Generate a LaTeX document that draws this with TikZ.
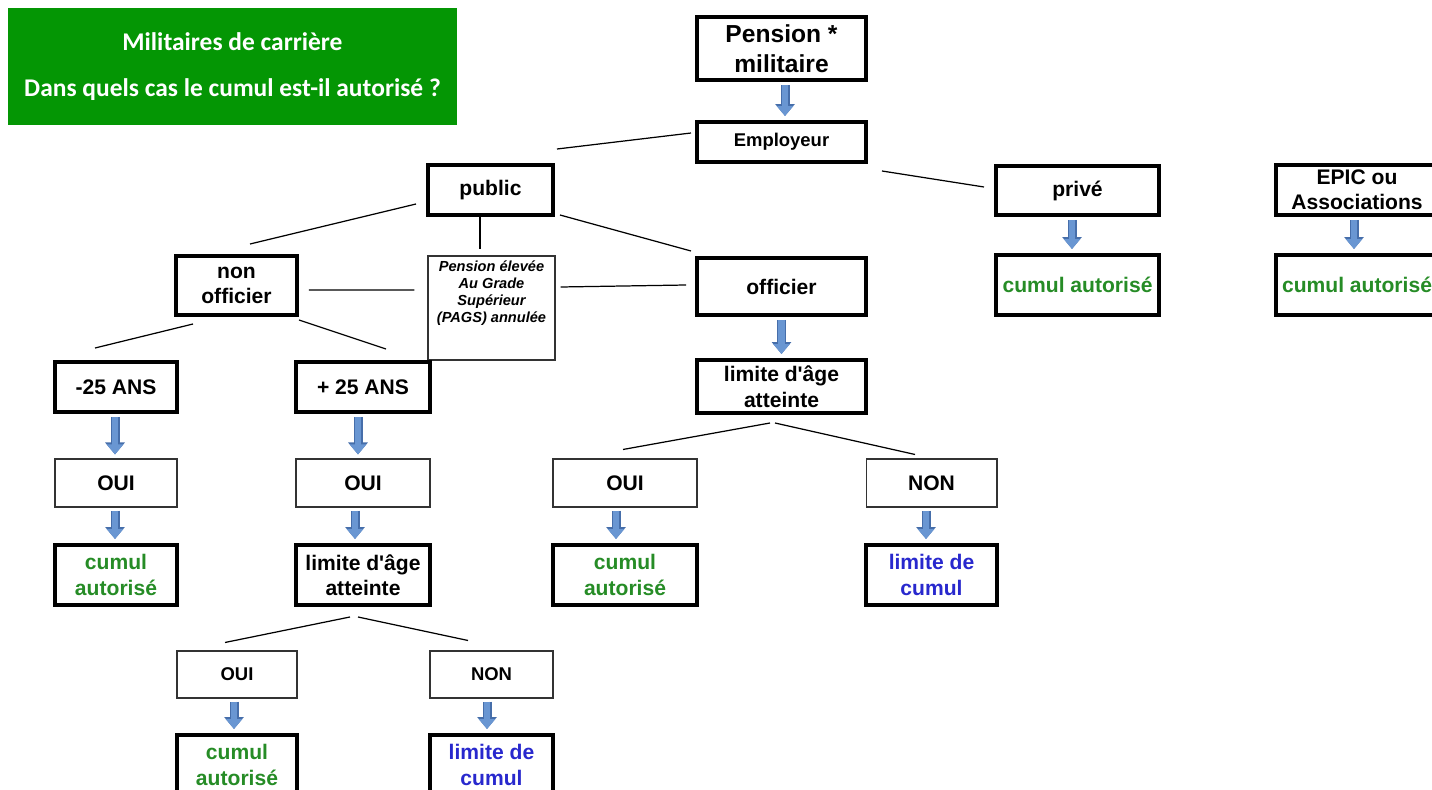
\documentclass[tikz,border=0pt]{standalone}
\usepackage{fontspec}
\setmainfont{Liberation Sans}
\newfontfamily\titlefont{Carlito}
\usetikzlibrary{arrows.meta}
\definecolor{titlegreen}{RGB}{4,150,4}
\definecolor{okgreen}{RGB}{38,140,38}
\definecolor{limblue}{RGB}{40,40,205}
\definecolor{arrowfill}{RGB}{105,150,210}
\definecolor{arrowedge}{RGB}{70,110,170}

\begin{document}
\begin{tikzpicture}[x=0.02cm,y=-0.02cm,
  thickbox/.style={draw=black,line width=0.08cm,inner sep=0pt,align=center,font=\bfseries\fontsize{12}{14.5}\selectfont},
  thinbox/.style={draw=black!80,line width=0.6pt,inner sep=0pt,align=center,font=\bfseries\fontsize{12}{14.5}\selectfont},
  link/.style={line width=0.7pt},
  blockarrow/.style={draw=arrowfill,line width=0.13cm,-{Triangle[width=0.32cm,length=0.2cm]},shorten <=0.06cm,shorten >=0.08cm,
    preaction={draw=arrowedge,line width=0.18cm,-{Triangle[width=0.38cm,length=0.24cm]}}}]

\useasboundingbox (0,0) rectangle (1432,790);

\node[fill=titlegreen,minimum width=8.98cm,minimum height=2.34cm,text=white,align=center,
  font=\titlefont\bfseries\fontsize{14.5}{17}\selectfont] (title) at (232.5,66.5)
  {Militaires de carrière\\[9pt]Dans quels cas le cumul est-il autorisé ?};

\node[thickbox,font=\bfseries\fontsize{14}{17}\selectfont,minimum width=3.38cm,minimum height=1.26cm] (pension) at (781.5,48.5) {Pension *\\militaire};
\node[thickbox,font=\bfseries\fontsize{10.5}{12}\selectfont,minimum width=3.38cm,minimum height=0.8cm] (employeur) at (781.5,142) {Employeur};
\node[thickbox,minimum width=2.5cm,minimum height=1cm] (public) at (490.5,190) {public};
\node[thickbox,minimum width=3.26cm,minimum height=0.98cm] (prive) at (1077.5,190.5) {privé};
\node[thickbox,minimum width=3.26cm,minimum height=1cm] (epic) at (1357,190) {EPIC ou\\Associations};
\node[thickbox,text=okgreen,minimum width=3.26cm,minimum height=1.2cm] (cumulp) at (1077.5,285) {cumul autorisé};
\node[thickbox,text=okgreen,minimum width=3.26cm,minimum height=1.2cm] (cumule) at (1357,285) {cumul autorisé};

\node[thickbox,minimum width=2.42cm,minimum height=1.18cm] (nonoff) at (236.5,285.5) {non\\officier};
\node[thinbox,minimum width=2.54cm,minimum height=2.08cm] (pags) at (491.5,308) {};
\node[below,inner sep=0.1cm,align=center,font=\bfseries\itshape\fontsize{8.3}{9.7}\selectfont] (pagstxt) at (pags.north)
  {Pension élevée\\Au Grade\\Supérieur\\(PAGS) annulée};
\node[thickbox,minimum width=3.38cm,minimum height=1.14cm] (officier) at (781.5,286.5) {officier};

\node[thickbox,minimum width=2.44cm,minimum height=1cm] (moins25) at (116,387) {-25 ANS};
\node[thickbox,minimum width=2.68cm,minimum height=1cm] (plus25) at (363,387) {+ 25 ANS};
\node[thickbox,minimum width=3.38cm,minimum height=1.06cm] (limoff) at (781.5,386.5) {limite d\textquotesingle âge\\atteinte};

\node[thinbox,minimum width=2.44cm,minimum height=0.96cm] (oui1) at (116,483) {OUI};
\node[thinbox,minimum width=2.68cm,minimum height=0.96cm] (oui2) at (363,483) {OUI};
\node[thinbox,minimum width=2.88cm,minimum height=0.96cm] (oui3) at (625,483) {OUI};
\node[thinbox,minimum width=2.62cm,minimum height=0.96cm] (non3) at (931.5,483) {NON};

\node[thickbox,text=okgreen,minimum width=2.44cm,minimum height=1.2cm] (cumul1) at (116,575) {cumul\\autorisé};
\node[thickbox,minimum width=2.68cm,minimum height=1.2cm] (lim2) at (363,575) {limite d\textquotesingle âge\\atteinte};
\node[thickbox,text=okgreen,minimum width=2.88cm,minimum height=1.2cm] (cumul3) at (625,575) {cumul\\autorisé};
\node[thickbox,text=limblue,minimum width=2.62cm,minimum height=1.2cm] (limc3) at (931.5,575) {limite de\\cumul};

\node[thinbox,font=\bfseries\fontsize{10.5}{12}\selectfont,minimum width=2.4cm,minimum height=0.94cm] (oui4) at (237,674.5) {OUI};
\node[thinbox,font=\bfseries\fontsize{10.5}{12}\selectfont,minimum width=2.46cm,minimum height=0.94cm] (non4) at (491.5,674.5) {NON};
\node[thickbox,text=okgreen,minimum width=2.4cm,minimum height=1.2cm] (cumul4) at (237,765) {cumul\\autorisé};
\node[thickbox,text=limblue,minimum width=2.46cm,minimum height=1.2cm] (limc4) at (491.5,765) {limite de\\cumul};

% tree lines
\draw[link] ([shift={(2,-14)}]public.north east) -- ([shift={(-4,-9)}]employeur.west);
\draw[link] ([shift={(14,7)}]employeur.south east) -- ([shift={(-10,-3.5)}]prive.west);
\draw[link] ([shift={(-10,14)}]public.west) -- ([shift={(13.5,-10)}]nonoff.north);
\draw[link] ([shift={(-10.5,0)}]public.south) -- ([shift={(-11.5,-6)}]pags.north);
\draw[link] ([shift={(5,-2)}]public.south east) -- ([shift={(-4,-5)}]officier.north west);
\draw[link] ([shift={(10,4.5)}]nonoff.east) -- ([shift={(-13,-18)}]pags.west);
\draw[link] ([shift={(5,-21)}]pags.east) -- ([shift={(-9,-1.5)}]officier.west);
\draw[link] ([shift={(-43.5,7)}]nonoff.south) -- ([shift={(-21,-12)}]moins25.north);
\draw[link] ([shift={(0,3)}]nonoff.south east) -- ([shift={(23,-11)}]plus25.north);
\draw[link] ([shift={(-11.5,8)}]limoff.south) -- ([shift={(-2,-9)}]oui3.north);
\draw[link] ([shift={(-6.5,8)}]limoff.south) -- ([shift={(-16.5,-4)}]non3.north);
\draw[link] ([shift={(-13,10)}]lim2.south) -- ([shift={(-12,-8)}]oui4.north);
\draw[link] ([shift={(-5,10)}]lim2.south) -- ([shift={(-23.5,-10)}]non4.north);

% arrows
\foreach \a/\b/\s in {pension/employeur/3.5, prive/cumulp/-5.5, epic/cumule/-3, officier/limoff/0,
  moins25/oui1/-1, oui1/cumul1/-1, plus25/oui2/-5, oui2/lim2/-8, oui3/cumul3/-9, non3/limc3/-5.5,
  oui4/cumul4/-3, non4/limc4/-4.5}
{
\draw[blockarrow] ([shift={(\s,0)}]\a.south) -- ([shift={(\s,0)}]\b.north);
}
\end{tikzpicture}
\end{document}
